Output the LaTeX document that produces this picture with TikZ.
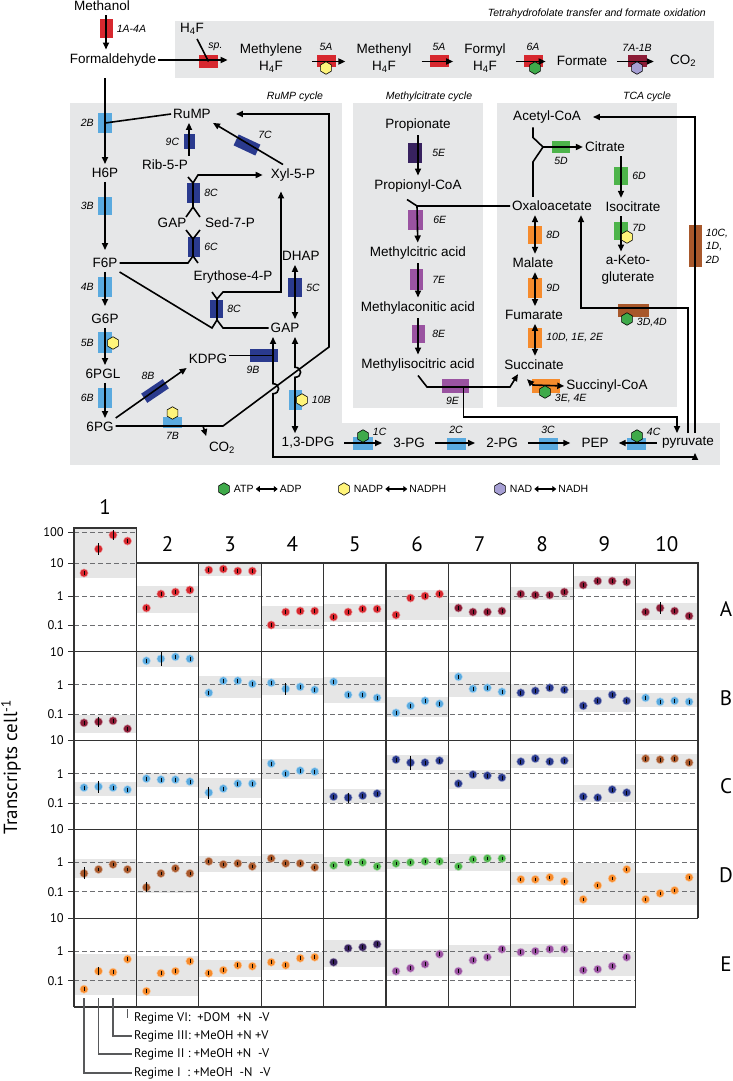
\documentclass[tikz,border=0pt]{standalone}
\usepackage{fontspec}
\setmainfont{Liberation Sans}
\newfontfamily\gridfont{PT Sans}
\usepackage{tikz}
\usetikzlibrary{positioning,arrows.meta,calc,shapes.geometric}
\definecolor{panelgray}{HTML}{E6E7E8}
\definecolor{bandgray}{HTML}{E6E6E6}
\definecolor{genred}{HTML}{D7282F}
\definecolor{genmaroon}{HTML}{8C1C36}
\definecolor{genlblue}{HTML}{5AAADF}
\definecolor{gendblue}{HTML}{2A3A8E}
\definecolor{genbrown}{HTML}{A8582B}
\definecolor{gengreen}{HTML}{4DB44A}
\definecolor{genorange}{HTML}{F68B2C}
\definecolor{gendpurple}{HTML}{38225F}
\definecolor{genpurple}{HTML}{9A53A1}
\definecolor{hexyellow}{HTML}{FFF47A}
\definecolor{hexgreen}{HTML}{3FAA4A}
\definecolor{hexpurple}{HTML}{A69FD4}
\definecolor{dashgray}{HTML}{6D6E71}
\definecolor{framegray}{HTML}{333333}
\definecolor{leadgray}{HTML}{58595B}

% row top / column / band top / band bottom / colour / four points (offsets below row top)
\def\cells{
	563/1/-35/15/genred/10/-14/-28/-22, 563/2/23/50/genred/45/31/29/27,
	563/3/0/13/genred/7/6/8/8, 563/4/43/66/genred/62/49/48/48,
	563/5/41/59/genred/54/49/46/46, 563/6/27/57/genred/52/35/33/31,
	563/7/40/54/genmaroon/45/49/49/48, 563/8/24/37/genmaroon/31/32/32/29,
	563/9/13/26/genmaroon/22/18/18/19, 563/10/40/57/genmaroon/49/45/48/53,
	651.8/1/63/81/genmaroon/71/70/69/77, 651.8/2/0/15/genlblue/9/7/5/7,
	651.8/3/24/46/genlblue/41/29/29/32, 651.8/4/26/43/genlblue/31/37/35/38,
	651.8/5/25/51/genlblue/30/43/43/46, 651.8/6/45/65/genlblue/61/54/49/52,
	651.8/7/20/45/genlblue/25/37/36/40, 651.8/8/32/46/gendblue/41/39/36/38,
	651.8/9/38/60/gendblue/54/49/43/49, 651.8/10/41/55/genlblue/46/50/49/50,
	740.6/1/41/55/genlblue/47/46/47/49, 740.6/2/32/46/genlblue/38/39/39/41,
	740.6/3/37/57/genlblue/52/48/43/43, 740.6/4/18/38/genlblue/23/33/30/31,
	740.6/5/48/62/gendblue/56/57/55/53, 740.6/6/14/29/gendblue/19/22/22/20,
	740.6/7/29/48/gendblue/43/34/35/37, 740.6/8/13/27/gendblue/21/18/21/20,
	740.6/9/44/61/gendblue/56/57/49/52, 740.6/10/13/28/genbrown/18/19/18/22,
	829.4/1/30/49/genbrown/44/40/35/40, 829.4/2/33/64/genbrown/58/44/39/44,
	829.4/3/27/43/genbrown/32/35/34/37, 829.4/4/25/43/genbrown/29/34/34/38,
	829.4/5/28/43/gengreen/36/33/33/37, 829.4/6/28/40/gengreen/34/33/32/32,
	829.4/7/25/42/gengreen/37/30/29/29, 829.4/8/43/56/genorange/50/50/48/52,
	829.4/9/34/76/genorange/70/56/49/40, 829.4/10/44/76/genorange/70/64/61/48,
	918.2/1/36/77/genorange/71/53/54/41, 918.2/2/38/78/genorange/73/55/53/43,
	918.2/3/42/59/genorange/55/52/47/48, 918.2/4/34/52/genorange/44/47/40/39,
	918.2/5/22/49/gendpurple/44/30/29/26, 918.2/6/31/58/genpurple/53/50/46/36,
	918.2/7/27/58/genpurple/53/42/39/31, 918.2/8/26/39/genpurple/34/33/31/31,
	918.2/9/34/58/genpurple/52/51/48/39}

\begin{document}
\begin{tikzpicture}[x=1pt,y=-1pt,
	met/.style={font=\fontsize{13.5}{16.5}\selectfont, inner xsep=2pt, inner ysep=4pt, align=center},
	enz/.style={font=\fontsize{10.5}{13.5}\selectfont\itshape, inner sep=1pt},
	ttl/.style={font=\fontsize{10.5}{12}\selectfont\itshape, inner sep=0pt},
	lgd/.style={font=\fontsize{10.5}{12}\selectfont, inner sep=1pt},
	every label/.style={enz},
	label distance=3pt,
	pline/.style={line width=1.6pt},
	rxn/.style={pline, -{Triangle[length=7pt,width=6pt]}},
	rxnb/.style={pline, {Triangle[length=7pt,width=6pt]}-{Triangle[length=7pt,width=6pt]}},
	hrxn/.style={rxn, shorten <=8pt, shorten >=9pt},
	lgarr/.style={line width=2pt, {Triangle[length=4pt,width=6pt]}-{Triangle[length=4pt,width=6pt]}, shorten <=1pt, shorten >=1pt},
	ebox/.style={fill=#1, minimum width=14pt, minimum height=20pt, inner sep=0pt},
	hbox/.style={fill=#1, minimum width=19pt, minimum height=12pt, inner sep=0pt},
	hexa/.style={regular polygon, regular polygon sides=6, shape border rotate=30, fill=#1, draw=black, line width=0.6pt, minimum size=12.5pt, inner sep=0pt},
	gdash/.style={dashgray, line width=1pt, dash pattern=on 4.5pt off 3.5pt},
	gframe/.style={framegray, line width=1.3pt},
	ticklab/.style={font=\gridfont\fontsize{12.5}{14}\selectfont, anchor=east, inner sep=1pt},
	colnum/.style={font=\gridfont\fontsize{21}{24}\selectfont, inner sep=0pt},
	regime/.style={font=\gridfont\fontsize{12.5}{14}\selectfont, anchor=west, inner sep=2pt},
	rgline/.style={leadgray, line width=1.3pt}
	]
	\useasboundingbox (0,0) rectangle (733,1081);

	% panels and titles
	\fill[panelgray] (175,21) rectangle (714,78);
	\fill[panelgray] (70,103) rectangle (342,465);
	\fill[panelgray] (342,423) rectangle (720,465);
	\fill[panelgray] (353,103) rectangle (483,408);
	\fill[panelgray] (497,103) rectangle (677,407);
	\node[ttl, anchor=east] (tTHF) at (706,14) {Tetrahydrofolate transfer and formate oxidation};
	\node[ttl] (tRuMP) at (295,97) {RuMP cycle};
	\node[ttl] (tMC) at (429,97) {Methylcitrate cycle};
	\node[ttl] (tTCA) at (647,97) {TCA cycle};

	% enzyme boxes
	\node[ebox=genred, minimum width=13pt, minimum height=19pt, label=right:1A-4A] (e1A) at (106,28.5) {};
	\node[hbox=genred, minimum height=13pt, label={[xshift=7pt]above:sp.}] (esp) at (208.5,61.5) {};
	\node[hbox=genred, label=above:5A] (e5Aa) at (326,61.5) {};
	\node[hbox=genred, label=above:5A] (e5Ab) at (439,61.5) {};
	\node[hbox=genred, label=above:6A] (e6A) at (533,61.5) {};
	\node[hbox=genmaroon, label=above:7A-1B] (e7A) at (637,61.5) {};
	\node[ebox=genlblue, label=left:2B] (e2B) at (105,123) {};
	\node[ebox=genlblue, minimum height=18pt, label=left:3B] (e3B) at (105,206) {};
	\node[ebox=genlblue, label=left:4B] (e4B) at (105,287) {};
	\node[ebox=genlblue, minimum height=21pt, label=left:5B] (e5B) at (105,342.5) {};
	\node[ebox=genlblue, label=left:6B] (e6B) at (105,398) {};
	\node[ebox=gendblue, minimum width=26pt, minimum height=11pt, rotate=34] (e8B) at (155,391) {};
	\node[enz] (l8B) at (148,376) {8B};
	\node[ebox=gendblue, minimum width=28pt, minimum height=13pt, label={[xshift=-11pt]below:9B}] (e9B) at (264,355.5) {};
	\node[ebox=genlblue, minimum width=19pt, minimum height=11pt, label=below:7B] (e7B) at (172.5,422) {};
	\node[ebox=genlblue, minimum width=13pt] (e10B) at (295,400) {};
	\node[ebox=gendblue, minimum height=19pt, label=right:5C] (e5C) at (295,287.5) {};
	\node[ebox=gendblue, minimum width=11pt, minimum height=15pt, label=left:9C] (e9C) at (189,141.5) {};
	\node[ebox=gendblue, minimum width=24pt, minimum height=12pt, rotate=-25] (e7C) at (247,145) {};
	\node[enz] (l7C) at (265,135) {7C};
	\node[ebox=gendblue, minimum width=13pt, label=right:8C] (e8Ca) at (193.5,193) {};
	\node[ebox=gendblue, minimum width=12pt, label=right:6C] (e6C) at (194,247) {};
	\node[ebox=gendblue, minimum width=13pt, minimum height=18pt, label=right:8C] (e8Cb) at (216.5,309) {};
	\node[hbox=genlblue, minimum width=20pt, minimum height=13pt] (e1C) at (363,443.5) {};
	\node[hbox=genlblue, label=above:2C] (e2C) at (456,444) {};
	\node[hbox=genlblue, label=above:3C] (e3C) at (548,444) {};
	\node[hbox=genlblue] (e4C) at (636,444) {};
	\node[ebox=gendpurple, label={[xshift=6pt]right:5E}] (e5E) at (415,153) {};
	\node[ebox=genpurple, minimum width=15pt, label={[xshift=6pt]right:6E}] (e6E) at (415.5,220) {};
	\node[ebox=genpurple, minimum width=13pt, minimum height=21pt, label={[xshift=5pt]right:7E}] (e7E) at (416.5,279.5) {};
	\node[ebox=genpurple, minimum width=13pt, minimum height=18pt, label={[xshift=3pt]right:8E}] (e8E) at (418.5,334) {};
	\node[ebox=genpurple, minimum width=27pt, minimum height=14pt, label={[xshift=-3pt]below:9E}] (e9E) at (455.5,386) {};
	\node[hbox=gengreen, minimum width=18pt, label=below:5D] (e5D) at (561,147) {};
	\node[ebox=gengreen, minimum height=18pt, label=right:6D] (e6D) at (621,176) {};
	\node[ebox=gengreen, minimum height=18pt, label={[yshift=3pt]right:7D}] (e7D) at (621,231) {};
	\node[ebox=genorange, minimum height=18pt, label=right:8D] (e8D) at (535,235) {};
	\node[ebox=genorange, label=right:9D] (e9D) at (535,288) {};
	\node[ebox=genorange, label={right:{10D, 1E, 2E}}] (e10D) at (535,338) {};
	\node[ebox=genorange, minimum width=28pt, minimum height=14pt] (e3E) at (546,386) {};
	\node[ebox=genbrown, minimum width=31pt, minimum height=13pt] (e3D) at (633.5,310.5) {};
	\node[ebox=genbrown, minimum width=13pt, minimum height=42pt, label={[align=left]right:{10C,\\1D,\\2D}}] (e10C) at (695,246) {};

	% metabolites
	\node[met] (methanol) at (102,6) {Methanol};
	\node[met] (formald) at (113,60) {Formaldehyde};
	\node[met] (h4f) at (192,29) {H\textsubscript{4}F};
	\node[met] (methylene) at (271,58) {Methylene\\H\textsubscript{4}F};
	\node[met] (methenyl) at (384,58) {Methenyl\\H\textsubscript{4}F};
	\node[met] (formyl) at (485,58) {Formyl\\H\textsubscript{4}F};
	\node[met] (formate) at (582,61) {Formate};
	\node[met] (co2a) at (683,61) {CO\textsubscript{2}};
	\node[met] (rump) at (192,114) {RuMP};
	\node[met] (h6p) at (105,173) {H6P};
	\node[met] (f6p) at (105,263) {F6P};
	\node[met] (g6p) at (105,319) {G6P};
	\node[met] (pgl) at (103,374) {6PGL};
	\node[met] (sixpg) at (100,427) {6PG};
	\node[met] (kdpg) at (208,359) {KDPG};
	\node[met] (gapB) at (285,328) {GAP};
	\node[met] (dpg) at (308,443) {1,3-DPG};
	\node[met] (dhap) at (301,256) {DHAP};
	\node[met] (rib) at (165,165) {Rib-5-P};
	\node[met] (xyl) at (293,175) {Xyl-5-P};
	\node[met] (gapA) at (172,223) {GAP};
	\node[met] (sed) at (230,223) {Sed-7-P};
	\node[met] (ery) at (233,277) {Erythose-4-P};
	\node[met] (co2b) at (222,448) {CO\textsubscript{2}};
	\node[met] (pg3) at (409,443) {3-PG};
	\node[met] (pg2) at (502,443) {2-PG};
	\node[met] (pep) at (595,443) {PEP};
	\node[met] (pyr) at (688,443) {pyruvate};
	\node[met] (prop) at (418,125) {Propionate};
	\node[met] (propcoa) at (418,186) {Propionyl-CoA};
	\node[met] (mca) at (418,253) {Methylcitric acid};
	\node[met] (maa) at (418,308) {Methylaconitic acid};
	\node[met] (mia) at (418,365) {Methylisocitric acid};
	\node[met] (acoa) at (547,117) {Acetyl-CoA};
	\node[met] (cit) at (605,147) {Citrate};
	\node[met] (icit) at (633,207) {Isocitrate};
	\node[met] (akg) at (628,270) {a-Keto-\\gluterate};
	\node[met] (oaa) at (552,206) {Oxaloacetate};
	\node[met] (mal) at (533,263) {Malate};
	\node[met] (fum) at (534,315) {Fumarate};
	\node[met] (succ) at (534,365) {Succinate};
	\node[met] (scoa) at (607,386) {Succinyl-CoA};

	% junctions and line columns
	\coordinate (cK) at (273,0);
	\coordinate (cG) at (295,0);
	\coordinate (cP) at (695,0);
	\coordinate (brCO2) at (203,426);
	\coordinate (bnd6PG) at (223,426);
	\coordinate (up6PG) at (329,347);
	\coordinate (top6PG) at (329,114);
	\coordinate (x8at) at (193,183);
	\coordinate (x8ab) at (193,207);
	\coordinate (x6t) at (193,239);
	\coordinate (x6b) at (193,256);
	\coordinate (x8bt) at (217,299);
	\coordinate (x8bb) at (217,320);
	\coordinate (jMC) at (417,206);
	\coordinate (j9E) at (427,387);
	\coordinate (j5D) at (543,147);
	\coordinate (j3E) at (533,385);

	% formaldehyde and tetrahydrofolate
	\draw[rxn] (e1A |- methanol.south) -- (e1A |- formald.north);
	\draw[pline] (h4f) -- (esp.center);
	\draw[rxn, shorten >=10pt] (formald) -- (formald -| methylene.west);
	\draw[hrxn] (methylene.east |- e5Aa) -- (methenyl.west |- e5Aa);
	\draw[hrxn] (methenyl.east |- e5Ab) -- (formyl.west |- e5Ab);
	\draw[hrxn] (formyl.east |- e6A) -- (formate.west |- e6A);
	\draw[hrxn, shorten >=14pt] (formate.east |- e7A) -- (co2a.west |- e7A);

	% RuMP cycle
	\draw[rxn, shorten <=8pt] (h6p |- formald.south) -- (h6p);
	\draw[pline] (rump.west) -- (e2B.center);
	\draw[rxn, shorten >=4pt] (h6p) -- (f6p);
	\draw[rxn, shorten >=4pt] (f6p) -- (g6p);
	\draw[rxn] (g6p) -- (g6p |- pgl.north);
	\draw[rxn] (g6p |- pgl.south) -- (g6p |- sixpg.north);
	\draw[rxn] (sixpg.north east) -- (kdpg.south west);
	\draw[rxn, shorten >=23pt] (sixpg.east |- bnd6PG) -- (bnd6PG) -- (up6PG) -- (top6PG) -- (rump.east |- top6PG);
	\draw[rxn, shorten >=2pt] (brCO2) -- (co2b.north west);
	\draw[pline] (kdpg.east |- e9B) -- (e9B -| cK);
	\draw[rxnb] (gapB.south -| cK) -- (273,383.7) .. controls (280.5,383.7) and (280.5,393.7) .. (273,393.7) -- (273,457) -| (pyr.south -| cP);
	\draw[rxnb] (gapB.south -| cG) -- (295,367.3) .. controls (302.5,367.3) and (302.5,377.3) .. (295,377.3) -- (dpg.north -| cG);
	\draw[rxnb] (gapB.north -| cG) -- (dhap.south -| cG);
	\draw[rxn] (rib.north -| e9C) -- (rump.south -| e9C);
	\draw[rxn] ([shift={(-10,0)}]xyl.north) -- (rump.south east);
	\draw[pline] (x8at) -- (x8ab) -- ++(-7,10) (x8ab) -- ++(7,10) (x8at) -- ++(-5,-6);
	\draw[rxn, shorten >=6pt] (x8at) -- ++(5,-8) -- (xyl.west);
	\draw[pline] (x6t) -- (x6b) -- ++(5,7) (x6t) -- ++(-7,-9) (x6t) -- ++(7,-9) (x6b) -- ++(-5,7) -- (f6p.east);
	\draw[pline] (x8bt) -- (x8bb) -- ++(6,8) -- (gapB.west) (x8bt) -- ++(-5,-7) (f6p.south east) -- ([shift={(-5,8)}]x8bb) -- (x8bb);
	\draw[rxn, shorten >=6pt] (x8bt) -- ++(6,-7) -| ([shift={(-12,0)}]xyl.south);

	% lower glycolysis
	\draw[hrxn] (dpg) -- (pg3);
	\draw[hrxn] (pg3) -- (pg2);
	\draw[hrxn] (pg2) -- (pep);
	\draw[rxn, shorten <=3pt, shorten >=8pt] (pyr) -- (pep);

	% methylcitrate cycle
	\draw[rxn] (prop) -- (propcoa);
	\draw[pline] ([shift={(-11,3)}]propcoa.south) -- (jMC) -- (oaa.west);
	\draw[rxn] (jMC) -- (mca);
	\draw[rxn] (mca) -- (maa);
	\draw[rxn] (maa) -- (mia);
	\draw[rxn] (mia.south) -- (j9E) -- (510,387) -- ([shift={(-16,0)}]succ.south);
	\draw[rxn] ([shift={(8,0)}]e9E.center) -- ++(0,31) -| ([shift={(-11,0)}]pyr.north);

	% TCA cycle
	\draw[pline] ([shift={(-14,0)}]acoa.south) -- ++(0,10) -- (j5D);
	\draw[pline] ([shift={(-19,0)}]oaa.north) -- ++(0,-35) -- (j5D);
	\draw[rxn] (j5D) -- (cit);
	\draw[rxn] (cit.south -| e6D) -- (icit.north -| e6D);
	\draw[rxn] (icit.south -| e7D) -- (akg.north -| e7D);
	\draw[rxnb] (oaa.south -| e8D) -- (mal.north -| e8D);
	\draw[rxnb] (mal.south -| e9D) -- (fum.north -| e9D);
	\draw[rxnb] (fum.south -| e10D) -- (succ.north -| e10D);
	\draw[rxnb] ([shift={(-7,5)}]succ.south) -- (j3E) -- (scoa.west);
	\draw[rxn] (pyr.north) -- ++(0,-125) -| ([shift={(29,0)}]oaa.south);
	\draw[rxn, shorten >=10pt] ([shift={(7,0)}]pyr.north) |- (acoa.east);

	% cofactors
	\node[hexa=hexyellow] (x5Aa) at (326,68) {};
	\node[hexa=hexgreen] (x6A) at (535,68) {};
	\node[hexa=hexpurple] (x7A) at (637,68) {};
	\node[hexa=hexyellow] (x5B) at (113,343) {};
	\node[hexa=hexyellow] (x7B) at (172.5,413) {};
	\node[hexa=hexyellow, label=right:10B] (x10B) at (302,400) {};
	\node[hexa=hexgreen, label={[yshift=4pt]right:1C}] (x1C) at (363,436) {};
	\node[hexa=hexgreen, label={[yshift=4pt]right:4C}] (x4C) at (637,436) {};
	\node[hexa=hexyellow] (x7D) at (627,237) {};
	\node[hexa=hexgreen, label={[yshift=-7pt]right:{3E, 4E}}] (x3E) at (545,392) {};
	\node[hexa=hexgreen, label={[yshift=-4pt]right:{3D,4D}}] (x3D) at (627,319) {};

	% legend
	\node[hexa=hexgreen] (hATP) at (224,489) {};
	\node[lgd, right=3pt of hATP] (tATP) {ATP};
	\node[lgd, right=24pt of tATP] (tADP) {ADP};
	\draw[lgarr] (tATP) -- (tADP);
	\node[hexa=hexyellow] (hNADP) at (344,489) {};
	\node[lgd, right=3pt of hNADP] (tNADP) {NADP};
	\node[lgd, right=24pt of tNADP] (tNADPH) {NADPH};
	\draw[lgarr] (tNADP) -- (tNADPH);
	\node[hexa=hexpurple] (hNAD) at (500,489) {};
	\node[lgd, right=3pt of hNAD] (tNAD) {NAD};
	\node[lgd, right=24pt of tNAD] (tNADH) {NADH};
	\draw[lgarr] (tNAD) -- (tNADH);

	% transcript grid
	\foreach \rt/\cn/\ba/\bb/\cl/\pa/\pb/\pc/\pd in \cells {
		\pgfmathsetmacro\xl{74+62.4*(\cn-1)}
		\fill[bandgray] (\xl,\rt+\ba) rectangle (\xl+62.4,\rt+\bb);
	}
	\foreach \rt in {563,651.8,740.6,829.4} {
		\draw[gdash] (74,\rt+33) -- (698,\rt+33);
		\draw[gdash] (74,\rt+62.5) -- (698,\rt+62.5);
	}
	\draw[gdash] (74,951.2) -- (636,951.2);
	\draw[gdash] (74,980.7) -- (636,980.7);
	\draw[gdash] (74,532) -- (136.4,532);
	\draw[gdash] (74,563) -- (136.4,563);
	\foreach \rt/\cn/\ba/\bb/\cl/\pa/\pb/\pc/\pd in \cells {
		\pgfmathsetmacro\xl{74+62.4*(\cn-1)+10}
		\foreach \pp [count=\kk from 0] in {\pa,\pb,\pc,\pd} {
			\fill[\cl, draw=\cl!45!white, line width=0.5pt] (\xl+14.5*\kk,\rt+\pp) circle[radius=4.1pt];
			\draw[line width=0.7pt] (\xl+14.5*\kk,\rt+\pp-1.9) -- ++(0,3.8);
		}
	}
	\foreach \rt/\cn/\kk/\pp/\er in {563/1/1/-14/6, 563/1/2/-28/5, 563/10/1/45/6,
		651.8/1/1/70/5, 651.8/2/1/7/7, 651.8/4/1/37/6, 740.6/1/1/46/6, 740.6/3/0/52/6,
		740.6/5/1/57/5, 740.6/6/1/22/7, 829.4/1/0/44/6, 829.4/2/0/58/5, 918.2/1/1/53/4}
		\draw[line width=0.8pt] ({74+62.4*(\cn-1)+10+14.5*\kk},\rt+\pp-\er) -- ++(0,2*\er);
	\draw[gframe] (74,1007) -- (74,528) -- (136.4,528) -- (136.4,1007);
	\draw[gframe] (136.4,563) -- (698,563) -- (698,918.2);
	\foreach \i in {2,...,9}
		\draw[gframe] (74+62.4*\i,563) -- (74+62.4*\i,1007);
	\foreach \rt in {651.8,740.6,829.4,918.2}
		\draw[gframe] (74,\rt) -- (698,\rt);
	\draw[gframe] (74,1007) -- (636,1007);
	\foreach \yy/\vv in {532/100, 563/10, 596/1, 625.5/0.1, 651.8/10, 684.8/1, 714.3/0.1,
		740.6/10, 773.6/1, 803.1/0.1, 829.4/10, 862.4/1, 891.9/0.1, 918.2/10, 951.2/1, 980.7/0.1} {
		\draw[framegray, line width=0.9pt] (68,\yy) -- (74,\yy);
		\node[ticklab] at (65,\yy) {\vv};
	}
	\node[colnum] (n1) at (105.2,507) {1};
	\foreach \i in {2,...,10}
		\node[colnum] (n\i) at (74+62.4*\i-31.2,544) {\i};
	\foreach \lt [count=\i from 0] in {A,B,C,D,E}
		\node[colnum] (r\lt) at (726,609+88.8*\i) {\lt};
	\node[rotate=90, anchor=base, font=\gridfont\fontsize{19}{22}\selectfont] (ytitle) at (17,767) {Transcripts cell\textsuperscript{-1}};

	% regimes
	\coordinate (d1) at (84,998);
	\coordinate (d2) at (98.5,998);
	\coordinate (d3) at (113,998);
	\coordinate (d4) at (127.5,1009);
	\node[regime] (rg6) at (132,1018) {Regime VI:~~+DOM~~+N~~-V};
	\node[regime] (rg3) at (132,1036) {Regime III: +MeOH +N +V};
	\node[regime] (rg2) at (132,1054) {Regime II : +MeOH +N~~-V};
	\node[regime] (rg1) at (132,1073) {Regime I~~: +MeOH~~-N~~-V};
	\draw[rgline] (d4) -- (d4 |- rg6.west);
	\draw[rgline] (d3) |- (rg3.west);
	\draw[rgline] (d2) |- (rg2.west);
	\draw[rgline] (d1) |- (rg1.west);
\end{tikzpicture}
\end{document}
